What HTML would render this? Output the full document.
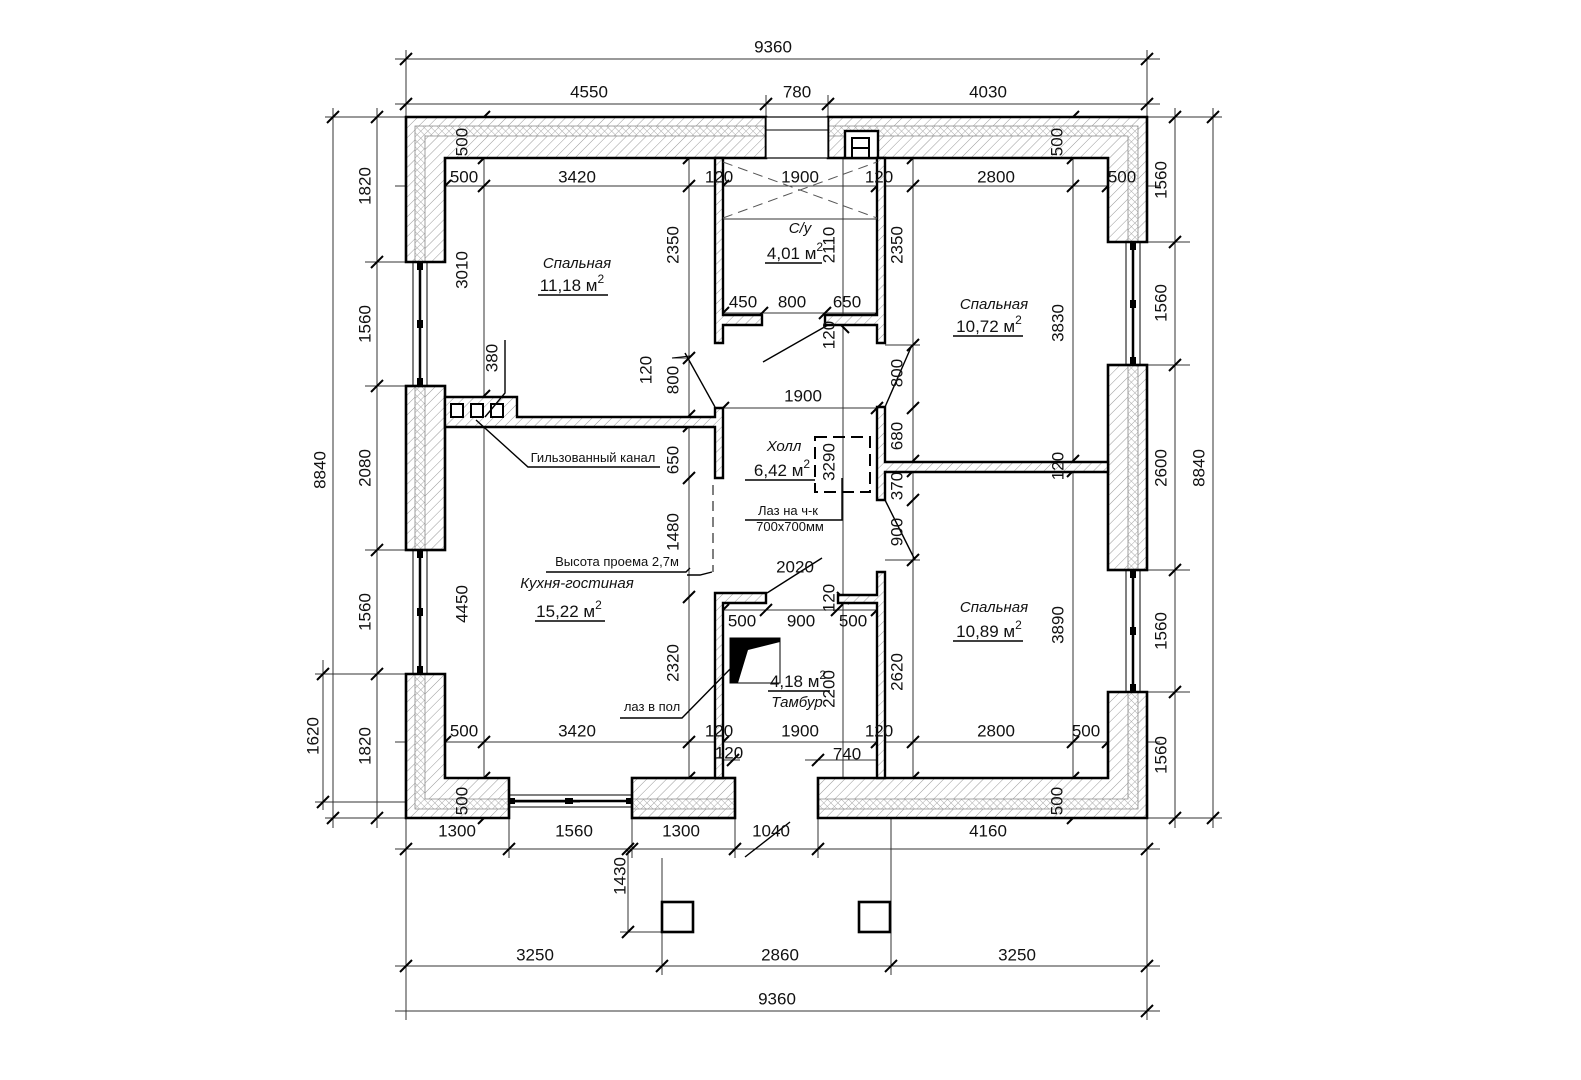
<!DOCTYPE html>
<html><head><meta charset="utf-8">
<style>
html,body{margin:0;padding:0;background:#fff;}
svg{display:block;}
text{font-family:"Liberation Sans","DejaVu Sans",sans-serif;font-size:17px;fill:#111;}
.r{font-style:italic;font-size:15px;}
.s{font-size:13px;}
</style></head>
<body>
<svg width="1581" height="1080" viewBox="0 0 1581 1080" xmlns="http://www.w3.org/2000/svg">
<defs>
<pattern id="dg" width="7" height="7" patternUnits="userSpaceOnUse" patternTransform="rotate(45)">
<rect width="7" height="7" fill="#fff"/><line x1="0" y1="0" x2="0" y2="7" stroke="#999" stroke-width="1"/>
</pattern>
<pattern id="cx" width="5" height="5" patternUnits="userSpaceOnUse" patternTransform="rotate(45)">
<rect width="5" height="5" fill="#fff"/><line x1="0" y1="0" x2="0" y2="5" stroke="#aaa" stroke-width="1"/><line x1="0" y1="0" x2="5" y2="0" stroke="#aaa" stroke-width="1"/>
</pattern>
<clipPath id="wc">
<polygon points="406,117 766,117 766,158 445,158 445,262 406,262"/>
<polygon points="828,117 1147,117 1147,242 1108,242 1108,158 828,158"/>
<rect x="406" y="386" width="39" height="164"/>
<polygon points="406,674 445,674 445,778 509,778 509,818 406,818"/>
<rect x="632" y="778" width="103" height="40"/>
<polygon points="818,778 1108,778 1108,692 1147,692 1147,818 818,818"/>
<rect x="1108" y="365" width="39" height="205"/>
</clipPath>
</defs>

<!-- extension / dimension lines -->
<g stroke="#333" stroke-width="1" fill="none">
<line x1="395" y1="59" x2="1160" y2="59"/>
<line x1="395" y1="104" x2="1160" y2="104"/>
<line x1="406" y1="50" x2="406" y2="117"/>
<line x1="1147" y1="50" x2="1147" y2="117"/>
<line x1="766" y1="95" x2="766" y2="117"/>
<line x1="828" y1="95" x2="828" y2="117"/>
<line x1="333" y1="108" x2="333" y2="828"/>
<line x1="377" y1="108" x2="377" y2="828"/>
<line x1="323" y1="660" x2="323" y2="810"/>
<line x1="325" y1="117" x2="406" y2="117"/>
<line x1="365" y1="262" x2="406" y2="262"/>
<line x1="365" y1="386" x2="406" y2="386"/>
<line x1="365" y1="550" x2="406" y2="550"/>
<line x1="315" y1="674" x2="406" y2="674"/>
<line x1="315" y1="802" x2="580" y2="802"/>
<line x1="325" y1="818" x2="406" y2="818"/>
<line x1="1175" y1="108" x2="1175" y2="828"/>
<line x1="1213" y1="108" x2="1213" y2="828"/>
<line x1="1147" y1="117" x2="1222" y2="117"/>
<line x1="1147" y1="242" x2="1190" y2="242"/>
<line x1="1147" y1="365" x2="1190" y2="365"/>
<line x1="1147" y1="570" x2="1190" y2="570"/>
<line x1="1147" y1="692" x2="1190" y2="692"/>
<line x1="1147" y1="818" x2="1222" y2="818"/>
<line x1="395" y1="849" x2="1160" y2="849"/>
<line x1="395" y1="966" x2="1160" y2="966"/>
<line x1="395" y1="1011" x2="1160" y2="1011"/>
<line x1="406" y1="818" x2="406" y2="1020"/>
<line x1="1147" y1="818" x2="1147" y2="1020"/>
<line x1="509" y1="818" x2="509" y2="858"/>
<line x1="632" y1="818" x2="632" y2="858"/>
<line x1="735" y1="818" x2="735" y2="858"/>
<line x1="818" y1="818" x2="818" y2="858"/>
<line x1="662" y1="858" x2="662" y2="975"/>
<line x1="891" y1="818" x2="891" y2="975"/>
<line x1="628" y1="849" x2="628" y2="932"/>
<line x1="620" y1="932" x2="662" y2="932"/>
<!-- internal -->
<line x1="395" y1="186" x2="1160" y2="186"/>
<line x1="395" y1="742" x2="1160" y2="742"/>
<line x1="484" y1="158" x2="484" y2="778"/>
<line x1="689" y1="150" x2="689" y2="778"/>
<line x1="913" y1="150" x2="913" y2="778"/>
<line x1="1073" y1="150" x2="1073" y2="778"/>
<line x1="723" y1="313" x2="877" y2="313"/>
<line x1="723" y1="408" x2="877" y2="408"/>
<line x1="723" y1="610" x2="877" y2="610"/>
<line x1="723" y1="760" x2="740" y2="760"/>
<line x1="805" y1="760" x2="877" y2="760"/>
<line x1="843" y1="150" x2="843" y2="778"/>
<line x1="672" y1="358" x2="689" y2="358"/>
<line x1="885" y1="345" x2="920" y2="345"/>
<line x1="885" y1="560" x2="920" y2="560"/>
</g>

<!-- ticks -->
<g stroke="#000" stroke-width="2">
<path d="M400,65L412,53 M1141,65L1153,53 M400,110L412,98 M760,110L772,98 M822,110L834,98 M1141,110L1153,98"/>
<path d="M327,123L339,111 M371,123L383,111 M371,268L383,256 M371,392L383,380 M371,556L383,544 M371,680L383,668 M371,824L383,812 M327,824L339,812 M317,680L329,668 M317,808L329,796"/>
<path d="M1169,123L1181,111 M1169,248L1181,236 M1169,371L1181,359 M1169,576L1181,564 M1169,698L1181,686 M1169,824L1181,812 M1207,123L1219,111 M1207,824L1219,812"/>
<path d="M400,855L412,843 M503,855L515,843 M626,855L638,843 M729,855L741,843 M812,855L824,843 M1141,855L1153,843 M400,972L412,960 M656,972L668,960 M885,972L897,960 M1141,972L1153,960 M1141,1017L1153,1005 M622,855L634,843 M622,938L634,926"/>
<path d="M439,192L451,180 M478,192L490,180 M683,192L695,180 M717,192L729,180 M871,192L883,180 M907,192L919,180 M1067,192L1079,180 M1102,192L1114,180"/>
<path d="M439,748L451,736 M478,748L490,736 M683,748L695,736 M717,748L729,736 M871,748L883,736 M907,748L919,736 M1067,748L1079,736 M1102,748L1114,736"/>
<path d="M478,164L490,152 M478,123L490,111 M1067,164L1079,152 M1067,123L1079,111 M478,784L490,772 M478,824L490,812 M1067,784L1079,772 M1067,824L1079,812"/>
<path d="M683,164L695,152 M683,364L695,352 M683,422L695,410 M683,432L695,420 M683,484L695,472 M683,603L695,591 M683,784L695,772"/>
<path d="M907,164L919,152 M907,351L919,339 M907,414L919,402 M907,467L919,455 M907,477L919,465 M907,506L919,494 M907,566L919,554 M907,784L919,772"/>
<path d="M1067,467L1079,455 M1067,477L1079,465 M717,319L729,307 M756,319L768,307 M819,319L831,307 M871,319L883,307 M837,321L849,333 M717,414L729,402 M871,414L883,402 M717,616L729,604 M760,616L772,604 M831,616L843,604 M871,616L883,604 M727,766L739,754 M812,766L824,754 M837,592L849,604 M478,402L490,390 M478,425L490,413"/>
</g>

<!-- outer walls -->
<g clip-path="url(#wc)">
<rect x="400" y="110" width="760" height="720" fill="url(#dg)"/>
<path fill-rule="evenodd" fill="url(#cx)" stroke="#888" stroke-width="0.8" d="M415,126H1138V809H415Z M425,136H1128V799H425Z"/>
</g>
<g fill="none" stroke="#000" stroke-width="2.6">
<polygon points="406,117 766,117 766,158 445,158 445,262 406,262"/>
<polygon points="828,117 1147,117 1147,242 1108,242 1108,158 828,158"/>
<rect x="406" y="386" width="39" height="164"/>
<polygon points="406,674 445,674 445,778 509,778 509,818 406,818"/>
<rect x="632" y="778" width="103" height="40"/>
<polygon points="818,778 1108,778 1108,692 1147,692 1147,818 818,818"/>
<rect x="1108" y="365" width="39" height="205"/>
</g>
<rect x="766" y="117" width="62" height="41" fill="#fff" stroke="#000" stroke-width="1.2"/>
<line x1="766" y1="130" x2="828" y2="130" stroke="#000" stroke-width="1"/>
<!-- vent box -->
<rect x="845" y="131" width="33" height="27" fill="#fff" stroke="#000" stroke-width="2.4"/>
<path d="M852,158V138H869V158 M852,148H869" fill="none" stroke="#000" stroke-width="2"/>

<!-- windows -->
<g fill="none" stroke="#000">
<rect x="413" y="262" width="14" height="124" stroke-width="1"/><line x1="420" y1="262" x2="420" y2="386" stroke-width="2.5"/>
<rect x="413" y="550" width="14" height="124" stroke-width="1"/><line x1="420" y1="550" x2="420" y2="674" stroke-width="2.5"/>
<rect x="1126" y="242" width="14" height="123" stroke-width="1"/><line x1="1133" y1="242" x2="1133" y2="365" stroke-width="2.5"/>
<rect x="1126" y="570" width="14" height="122" stroke-width="1"/><line x1="1133" y1="570" x2="1133" y2="692" stroke-width="2.5"/>
<rect x="509" y="795" width="123" height="12" stroke-width="1"/><line x1="509" y1="801" x2="632" y2="801" stroke-width="2.5"/>
</g>
<g fill="#000">
<rect x="417" y="262" width="6" height="8"/><rect x="417" y="320" width="6" height="8"/><rect x="417" y="378" width="6" height="8"/>
<rect x="417" y="550" width="6" height="8"/><rect x="417" y="608" width="6" height="8"/><rect x="417" y="666" width="6" height="8"/>
<rect x="1130" y="242" width="6" height="8"/><rect x="1130" y="300" width="6" height="8"/><rect x="1130" y="357" width="6" height="8"/>
<rect x="1130" y="570" width="6" height="8"/><rect x="1130" y="627" width="6" height="8"/><rect x="1130" y="684" width="6" height="8"/>
<rect x="565" y="798" width="8" height="6"/><rect x="509" y="798" width="6" height="6"/><rect x="626" y="798" width="6" height="6"/>
</g>

<!-- interior walls -->
<g fill="url(#dg)" stroke="#000" stroke-width="2.4">
<polygon points="715,158 723,158 723,315 762,315 762,325 723,325 723,343 715,343"/>
<polygon points="877,158 885,158 885,343 877,343 877,325 825,325 825,315 877,315"/>
<polygon points="445,397 517,397 517,417 715,417 715,408 723,408 723,478 715,478 715,427 445,427"/>
<polygon points="877,407 885,407 885,462 1108,462 1108,472 885,472 885,500 877,500"/>
<polygon points="715,593 766,593 766,603 723,603 723,778 715,778"/>
<polygon points="877,572 885,572 885,778 877,778 877,603 838,603 838,595 877,595"/>
</g>
<g fill="#fff" stroke="#000" stroke-width="2">
<rect x="451" y="404" width="12" height="13"/><rect x="471" y="404" width="12" height="13"/><rect x="491" y="404" width="12" height="13"/>
</g>

<!-- porch columns -->
<rect x="662" y="902" width="31" height="30" fill="none" stroke="#000" stroke-width="2.6"/>
<rect x="859" y="902" width="31" height="30" fill="none" stroke="#000" stroke-width="2.6"/>

<!-- dashed -->
<g fill="none" stroke="#555" stroke-width="1" stroke-dasharray="10,6">
<line x1="723" y1="162" x2="877" y2="218"/>
<line x1="723" y1="218" x2="877" y2="162"/>
<line x1="713" y1="485" x2="713" y2="572" stroke-width="1.5"/>
</g>
<line x1="723" y1="219" x2="877" y2="219" stroke="#333" stroke-width="1"/>
<rect x="815" y="437" width="55" height="55" fill="none" stroke="#000" stroke-width="2" stroke-dasharray="12,6"/>

<!-- doors / leaders -->
<g fill="none" stroke="#000" stroke-width="1.4">
<line x1="828" y1="325" x2="763" y2="362"/>
<line x1="685" y1="353" x2="715" y2="407"/>
<line x1="885" y1="407" x2="912" y2="345"/>
<line x1="885" y1="500" x2="915" y2="560"/>
<line x1="767" y1="593" x2="822" y2="558"/>
<line x1="745" y1="857" x2="790" y2="822"/>
<polyline points="476,420 528,467 660,467"/>
<polyline points="485,417 505,393 505,340"/>
<polyline points="546,572 686,572 690,568"/>
<polyline points="620,718 682,718 735,664"/>
<polyline points="745,520 842,520 842,478"/>
<polyline points="687,575 700,575 712,572"/>
</g>
<line x1="672" y1="358" x2="690" y2="356" stroke="#000" stroke-width="1"/>
<!-- tambur hatch shape -->
<rect x="730" y="638" width="50" height="45" fill="none" stroke="#000" stroke-width="1"/>
<polygon points="730,638 780,638 780,642 748,650 738,683 730,683" fill="#000"/>

<!-- underlines -->
<g stroke="#000" stroke-width="1.4">
<line x1="538" y1="295" x2="608" y2="295"/>
<line x1="765" y1="263" x2="822" y2="263"/>
<line x1="953" y1="336" x2="1023" y2="336"/>
<line x1="745" y1="480" x2="815" y2="480"/>
<line x1="535" y1="621" x2="605" y2="621"/>
<line x1="953" y1="641" x2="1023" y2="641"/>
<line x1="768" y1="691" x2="830" y2="691"/>
</g>

<!-- dimension text -->
<g text-anchor="middle" dominant-baseline="central">
<text x="773" y="47">9360</text>
<text x="589" y="92">4550</text>
<text x="797" y="92">780</text>
<text x="988" y="92">4030</text>
<text x="464" y="177">500</text><text x="577" y="177">3420</text><text x="719" y="177">120</text><text x="800" y="177">1900</text><text x="879" y="177">120</text><text x="996" y="177">2800</text><text x="1122" y="177">500</text>
<text x="464" y="731">500</text><text x="577" y="731">3420</text><text x="719" y="731">120</text><text x="800" y="731">1900</text><text x="879" y="731">120</text><text x="996" y="731">2800</text><text x="1086" y="731">500</text>
<text x="729" y="753">120</text><text x="847" y="754">740</text>
<text x="743" y="302">450</text><text x="792" y="302">800</text><text x="847" y="302">650</text>
<text x="803" y="396">1900</text>
<text x="795" y="567">2020</text>
<text x="742" y="621">500</text><text x="801" y="621">900</text><text x="853" y="621">500</text>
<text x="457" y="831">1300</text><text x="574" y="831">1560</text><text x="681" y="831">1300</text><text x="771" y="831">1040</text><text x="988" y="831">4160</text>
<text x="535" y="955">3250</text><text x="780" y="955">2860</text><text x="1017" y="955">3250</text>
<text x="777" y="999">9360</text>
</g>
<g text-anchor="middle" dominant-baseline="central">
<text transform="translate(462,142) rotate(-90)">500</text>
<text transform="translate(1057,142) rotate(-90)">500</text>
<text transform="translate(462,801) rotate(-90)">500</text>
<text transform="translate(1057,801) rotate(-90)">500</text>
<text transform="translate(462,270) rotate(-90)">3010</text>
<text transform="translate(462,604) rotate(-90)">4450</text>
<text transform="translate(492,358) rotate(-90)">380</text>
<text transform="translate(673,245) rotate(-90)">2350</text>
<text transform="translate(646,370) rotate(-90)">120</text>
<text transform="translate(673,380) rotate(-90)">800</text>
<text transform="translate(673,460) rotate(-90)">650</text>
<text transform="translate(673,532) rotate(-90)">1480</text>
<text transform="translate(673,663) rotate(-90)">2320</text>
<text transform="translate(897,245) rotate(-90)">2350</text>
<text transform="translate(897,373) rotate(-90)">800</text>
<text transform="translate(897,436) rotate(-90)">680</text>
<text transform="translate(897,486) rotate(-90)">370</text>
<text transform="translate(897,532) rotate(-90)">900</text>
<text transform="translate(897,672) rotate(-90)">2620</text>
<text transform="translate(1058,323) rotate(-90)">3830</text>
<text transform="translate(1058,466) rotate(-90)">120</text>
<text transform="translate(1058,625) rotate(-90)">3890</text>
<text transform="translate(829,245) rotate(-90)">2110</text>
<text transform="translate(829,335) rotate(-90)">120</text>
<text transform="translate(829,462) rotate(-90)">3290</text>
<text transform="translate(829,598) rotate(-90)">120</text>
<text transform="translate(829,689) rotate(-90)">2200</text>
<text transform="translate(365,186) rotate(-90)">1820</text>
<text transform="translate(365,324) rotate(-90)">1560</text>
<text transform="translate(365,468) rotate(-90)">2080</text>
<text transform="translate(365,612) rotate(-90)">1560</text>
<text transform="translate(365,746) rotate(-90)">1820</text>
<text transform="translate(320,470) rotate(-90)">8840</text>
<text transform="translate(313,736) rotate(-90)">1620</text>
<text transform="translate(1161,180) rotate(-90)">1560</text>
<text transform="translate(1161,303) rotate(-90)">1560</text>
<text transform="translate(1161,468) rotate(-90)">2600</text>
<text transform="translate(1161,631) rotate(-90)">1560</text>
<text transform="translate(1161,755) rotate(-90)">1560</text>
<text transform="translate(1199,468) rotate(-90)">8840</text>
<text transform="translate(620,876) rotate(-90)">1430</text>
</g>

<!-- room labels -->
<g text-anchor="middle">
<text class="r" x="577" y="268">Спальная</text>
<text x="572" y="291">11,18 м<tspan dy="-8" font-size="12">2</tspan></text>
<text class="r" x="800" y="233">С/у</text>
<text x="795" y="259">4,01 м<tspan dy="-8" font-size="12">2</tspan></text>
<text class="r" x="994" y="309">Спальная</text>
<text x="989" y="332">10,72 м<tspan dy="-8" font-size="12">2</tspan></text>
<text class="r" x="784" y="451">Холл</text>
<text x="782" y="476">6,42 м<tspan dy="-8" font-size="12">2</tspan></text>
<text class="s" x="788" y="515">Лаз на ч-к</text>
<text class="s" x="790" y="531">700х700мм</text>
<text class="r" x="577" y="588">Кухня-гостиная</text>
<text x="569" y="617">15,22 м<tspan dy="-8" font-size="12">2</tspan></text>
<text class="r" x="994" y="612">Спальная</text>
<text x="989" y="637">10,89 м<tspan dy="-8" font-size="12">2</tspan></text>
<text x="798" y="687">4,18 м<tspan dy="-8" font-size="12">2</tspan></text>
<text class="r" x="797" y="707">Тамбур</text>
<text class="s" x="617" y="566">Высота проема 2,7м</text>
<text class="s" x="593" y="462">Гильзованный канал</text>
<text class="s" x="652" y="711">лаз в пол</text>
</g>
</svg>
</body></html>
